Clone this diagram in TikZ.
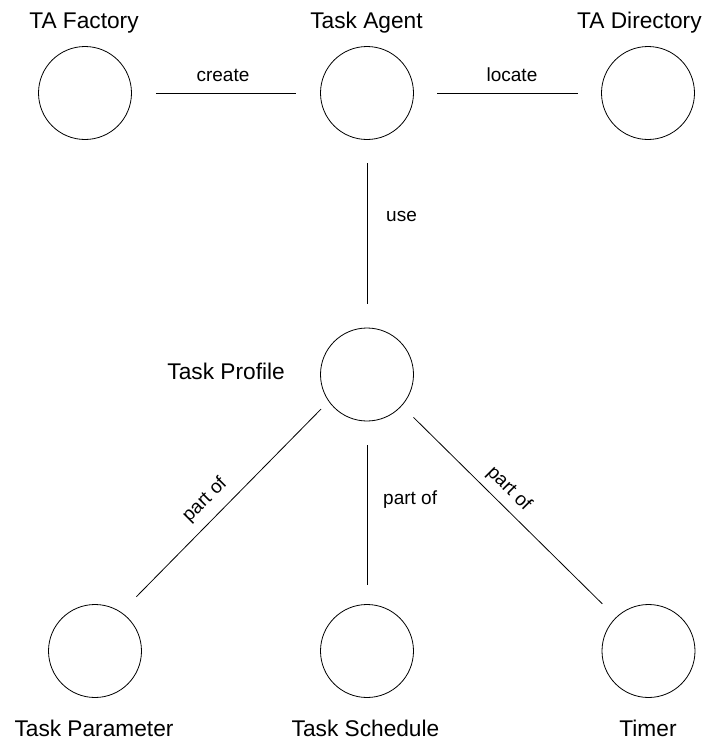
\documentclass[tikz,border=0pt]{standalone}
\usepackage{fontspec}
\setmainfont{Liberation Sans}
\begin{document}
\begin{tikzpicture}[x=1pt,y=-1pt,
  entity/.style={circle, draw, line width=0.8pt, minimum size=93pt, inner sep=0pt},
  title/.style={font=\fontsize{22.7}{26}\selectfont, inner sep=0pt, anchor=base},
  rel/.style={font=\fontsize{19}{22}\selectfont, inner sep=0pt},
  link/.style={line width=0.8pt}]
\useasboundingbox (0,0) rectangle (702,740);
\fill[white] (0,0) rectangle (702,740);

% entities
\node[entity] (fac)    at (85,93)    {};
\node[entity] (agent)  at (367,93)   {};
\node[entity] (dir)    at (648,93)   {};
\node[entity] (prof)   at (367,374.5) {};
\node[entity] (param)  at (95,651)   {};
\node[entity] (sched)  at (367,651)  {};
\node[entity] (timer)  at (648.5,651) {};

% entity names
\node[title] (tfac)   at (84,28)    {TA Factory};
\node[title] (tagent) at (366.5,28) {Task Agent};
\node[title, anchor=base west] (tdir) at (577,28) {TA Directory};
\node[title, anchor=base east] (tprof) at (285,379) {Task Profile};
\node[title] (tparam) at (94,736)    {Task Parameter};
\node[title] (tsched) at (365.5,736) {Task Schedule};
\node[title] (ttimer) at (648,736)   {Timer};

% relations
\draw[link, shorten <=24pt, shorten >=24pt] (fac) -- (agent);
\draw[link, shorten <=23.5pt, shorten >=23.5pt] (agent) -- (dir);
\draw[link, shorten <=23.5pt, shorten >=24pt] (agent) -- (prof);
\draw[link, shorten <=24pt, shorten >=19.5pt] (prof) -- (sched);
\draw[link, shorten <=10.7pt, shorten >=21.5pt] (prof.215.5) -- (param.56);
\draw[link, shorten <=16.4pt, shorten >=19.1pt] (prof.-42) -- (timer.134.7);

% relation labels
\node[rel, anchor=base] (lcreate) at (223,81) {create};
\node[rel, anchor=base] (llocate) at (512,81) {locate};
\node[rel, anchor=base west] (luse) at (386,221) {use};
\node[rel, anchor=base west] (lpartb) at (383,504) {part of};
\node[rel, rotate=45]  (lparta) at (205,500) {part of};
\node[rel, rotate=-45] (lpartc) at (509,489) {part of};
\end{tikzpicture}
\end{document}
